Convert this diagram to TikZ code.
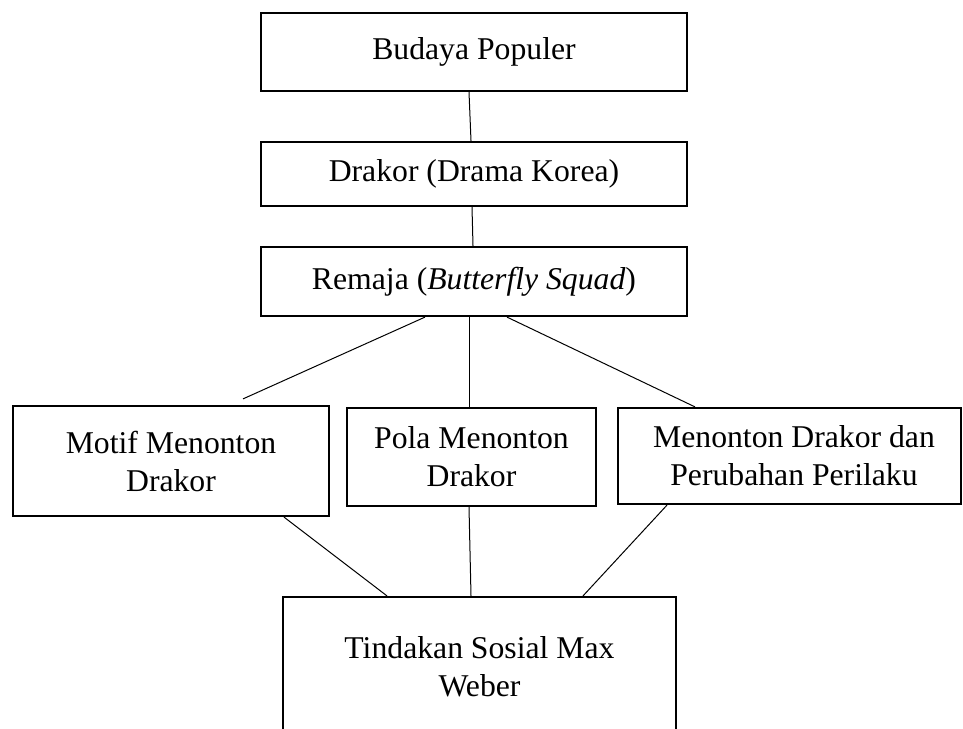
\documentclass[tikz,border=0pt]{standalone}
\usepackage{fontspec}
\setmainfont{Liberation Serif}
\usetikzlibrary{calc}
\begin{document}
\begin{tikzpicture}[x=1pt,y=-1pt,
  box/.style={draw=black,line width=2.2pt,rectangle,inner sep=0pt,align=center,
    font=\fontsize{31.7}{38}\selectfont},
  link/.style={draw=black,line width=1pt}]
\clip (0,0) rectangle (963,728);
\fill[white] (0,0) rectangle (963,728);
\node[box,minimum width=426pt,minimum height=78pt] (b1) at (474,52) {Budaya Populer};
\node[box,minimum width=426pt,minimum height=64pt] (b2) at (474,174) {Drakor (Drama Korea)};
\node[box,minimum width=426pt,minimum height=69pt] (b3) at (474,281.5) {Remaja (\textit{Butterfly Squad})};
\node[box,minimum width=316pt,minimum height=110pt] (b4) at (171,461) {Motif Menonton\\Drakor};
\node[box,minimum width=249pt,minimum height=98pt] (b5) at (471.5,457) {Pola Menonton\\Drakor};
\node[box,minimum width=343pt,minimum height=96pt] (b6) at (789.5,456) {\hspace*{9pt}Menonton Drakor dan\\\hspace*{9pt}Perubahan Perilaku};
\node[box,minimum width=393pt,minimum height=139pt] (b7) at (479.5,666.5) {Tindakan Sosial Max\\Weber};
\draw[link] ($(b1.south)+(-5,0)$) -- ($(b2.north)+(-3,0)$);
\draw[link] ($(b2.south)+(-2,0)$) -- ($(b3.north)+(-1,0)$);
\draw[link] ($(b3.south)+(-49,0)$) -- ($(b4.north)+(72,-6)$);
\draw[link] ($(b3.south)+(-5,0)$) -- ($(b5.north)+(-2.5,0)$);
\draw[link] ($(b3.south)+(33,0)$) -- ($(b6.north)+(-94.5,0)$);
\draw[link] ($(b4.south)+(113,0)$) -- ($(b7.north)+(-92.5,0)$);
\draw[link] ($(b5.south)+(-2.5,0)$) -- ($(b7.north)+(-8.5,0)$);
\draw[link] ($(b6.south)+(-122.5,0)$) -- ($(b7.north)+(103.5,0)$);
\end{tikzpicture}
\end{document}
